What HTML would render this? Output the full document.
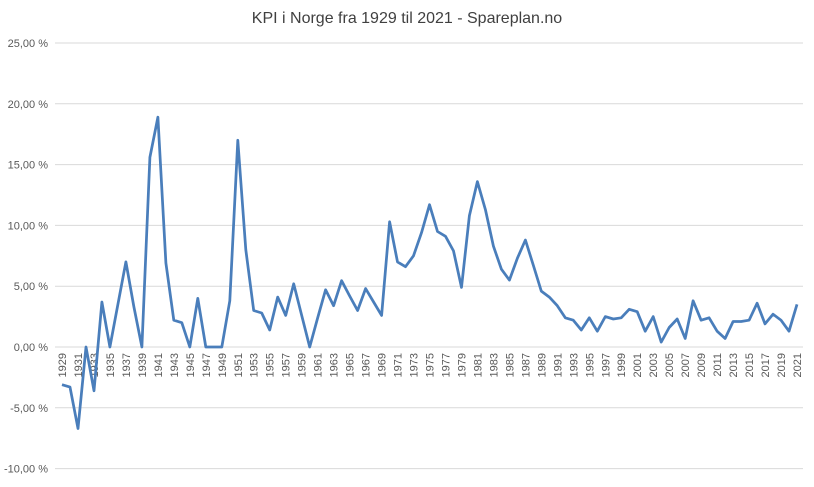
<!DOCTYPE html>
<html><head><meta charset="utf-8"><style>
body{margin:0;background:#fff;}
svg text{font-family:"Liberation Sans",sans-serif;}
</style></head><body>
<svg id="chart" width="814" height="482" xmlns="http://www.w3.org/2000/svg">
<rect width="814" height="482" fill="#fff"/>
<text x="407" y="23" text-anchor="middle" font-size="16" fill="#404040">KPI i Norge fra 1929 til 2021 - Spareplan.no</text>
<g id="grid"></g><g id="ylab"></g><g id="xlab"></g><g id="series"></g>
</svg>
<script>
const startYear = 1929;
const values = [-3.1,-3.3,-6.7,0.0,-3.6,3.7,0.0,3.5,7.0,3.3,0.0,15.6,18.9,6.9,2.2,2.0,0.0,4.0,0.0,0.0,0.0,3.8,17.0,8.0,3.0,2.8,1.4,4.1,2.6,5.2,2.6,0.0,2.4,4.7,3.4,5.45,4.2,3.0,4.8,3.7,2.6,10.3,7.0,6.6,7.5,9.4,11.7,9.5,9.1,7.9,4.9,10.8,13.6,11.3,8.3,6.4,5.5,7.3,8.8,6.7,4.6,4.1,3.4,2.4,2.2,1.4,2.4,1.3,2.5,2.3,2.4,3.1,2.9,1.3,2.5,0.4,1.6,2.3,0.7,3.8,2.2,2.4,1.3,0.7,2.1,2.1,2.2,3.6,1.9,2.7,2.2,1.3,3.5];
const yTicks = [25,20,15,10,5,0,-5,-10];
const yTickLabels = ["25,00 %","20,00 %","15,00 %","10,00 %","5,00 %","0,00 %","-5,00 %","-10,00 %"];
const NS="http://www.w3.org/2000/svg";
const y = v => 347 - v*12.16;
const x = i => 62 + i*(735/92);
const g=document.getElementById('grid'), yl=document.getElementById('ylab'), xl=document.getElementById('xlab'), s=document.getElementById('series');
yTicks.forEach((t,k)=>{
  const l=document.createElementNS(NS,'line');
  
  
  l.setAttribute('x1',55);l.setAttribute('x2',803);l.setAttribute('y1',y(t));l.setAttribute('y2',y(t));
  l.setAttribute('stroke','#d9d9d9');l.setAttribute('stroke-width','1');
  g.appendChild(l);
  const tx=document.createElementNS(NS,'text');
  
  
  tx.setAttribute('x',48);tx.setAttribute('y',y(t)+4);tx.setAttribute('text-anchor','end');
  tx.setAttribute('font-size','11');tx.setAttribute('fill','#595959');
  tx.textContent=yTickLabels[k];
  yl.appendChild(tx);
});
values.forEach((v,i)=>{
  if(i%2!==0) return;
  const tx=document.createElementNS(NS,'text');
  
  
  const xx=x(i)+4, yy=353;
  tx.setAttribute('x',xx);tx.setAttribute('y',yy);tx.setAttribute('text-anchor','end');
  tx.setAttribute('transform','rotate(-90 '+xx+' '+yy+')');
  tx.setAttribute('font-size','11');tx.setAttribute('fill','#595959');
  tx.textContent=String(startYear+i);
  xl.appendChild(tx);
});
const p=document.createElementNS(NS,'polyline');


p.setAttribute('points',values.map((v,i)=>x(i).toFixed(1)+','+y(v).toFixed(1)).join(' '));
p.setAttribute('fill','none');p.setAttribute('stroke','#4a7ebb');p.setAttribute('stroke-width','2.75');p.setAttribute('stroke-linejoin','round');
s.appendChild(p);
</script>
</body></html>
